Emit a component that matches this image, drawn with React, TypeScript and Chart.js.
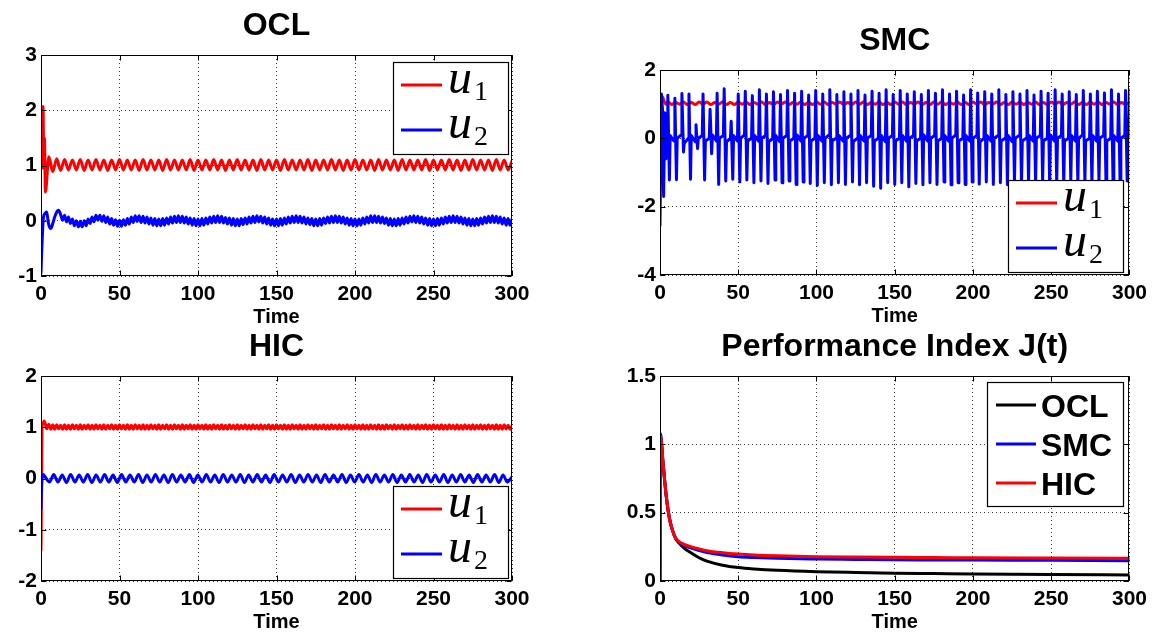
import React, { useEffect, useRef } from "react";
import { Chart, registerables } from "chart.js";

Chart.register(...registerables);

const PAGE_W = 1153;
const PAGE_H = 632;
const SANS = '"Liberation Sans", Arial, Helvetica, sans-serif';
const SERIF = '"Liberation Serif", "DejaVu Serif", serif';
const RED = "#ff0000";
const BLUE = "#0000ff";
const BLACK = "#000000";

const TITLES = ["OCL", "SMC", "HIC", "Performance Index J(t)"];
const X_LABEL = "Time";
const X_MIN = 0;
const X_MAX = 300;
const X_TICK_STEP = 50;
const U_LEGEND = [
  { base: "u", sub: "1" },
  { base: "u", sub: "2" },
];
const J_LEGEND = ["OCL", "SMC", "HIC"];

// ---------- shared time grids (sampling instants of the oscillating signals) ----------
const T_2_5 = [
  5, 7.5, 10, 12.5, 15, 17.5, 20, 22.5, 25, 27.5, 30, 32.5, 35, 37.5, 40, 42.5, 45, 47.5, 50, 52.5,
  55, 57.5, 60, 62.5, 65, 67.5, 70, 72.5, 75, 77.5, 80, 82.5, 85, 87.5, 90, 92.5, 95, 97.5, 100, 102.5,
  105, 107.5, 110, 112.5, 115, 117.5, 120, 122.5, 125, 127.5, 130, 132.5, 135, 137.5, 140, 142.5, 145, 147.5, 150, 152.5,
  155, 157.5, 160, 162.5, 165, 167.5, 170, 172.5, 175, 177.5, 180, 182.5, 185, 187.5, 190, 192.5, 195, 197.5, 200, 202.5,
  205, 207.5, 210, 212.5, 215, 217.5, 220, 222.5, 225, 227.5, 230, 232.5, 235, 237.5, 240, 242.5, 245, 247.5, 250, 252.5,
  255, 257.5, 260, 262.5, 265, 267.5, 270, 272.5, 275, 277.5, 280, 282.5, 285, 287.5, 290, 292.5, 295, 297.5, 300,
];

const T_1_25 = [
  5, 6.25, 7.5, 8.75, 10, 11.25, 12.5, 13.75, 15, 16.25, 17.5, 18.75, 20, 21.25, 22.5, 23.75, 25, 26.25, 27.5, 28.75,
  30, 31.25, 32.5, 33.75, 35, 36.25, 37.5, 38.75, 40, 41.25, 42.5, 43.75, 45, 46.25, 47.5, 48.75, 50, 51.25, 52.5, 53.75,
  55, 56.25, 57.5, 58.75, 60, 61.25, 62.5, 63.75, 65, 66.25, 67.5, 68.75, 70, 71.25, 72.5, 73.75, 75, 76.25, 77.5, 78.75,
  80, 81.25, 82.5, 83.75, 85, 86.25, 87.5, 88.75, 90, 91.25, 92.5, 93.75, 95, 96.25, 97.5, 98.75, 100, 101.25, 102.5, 103.75,
  105, 106.25, 107.5, 108.75, 110, 111.25, 112.5, 113.75, 115, 116.25, 117.5, 118.75, 120, 121.25, 122.5, 123.75, 125, 126.25, 127.5, 128.75,
  130, 131.25, 132.5, 133.75, 135, 136.25, 137.5, 138.75, 140, 141.25, 142.5, 143.75, 145, 146.25, 147.5, 148.75, 150, 151.25, 152.5, 153.75,
  155, 156.25, 157.5, 158.75, 160, 161.25, 162.5, 163.75, 165, 166.25, 167.5, 168.75, 170, 171.25, 172.5, 173.75, 175, 176.25, 177.5, 178.75,
  180, 181.25, 182.5, 183.75, 185, 186.25, 187.5, 188.75, 190, 191.25, 192.5, 193.75, 195, 196.25, 197.5, 198.75, 200, 201.25, 202.5, 203.75,
  205, 206.25, 207.5, 208.75, 210, 211.25, 212.5, 213.75, 215, 216.25, 217.5, 218.75, 220, 221.25, 222.5, 223.75, 225, 226.25, 227.5, 228.75,
  230, 231.25, 232.5, 233.75, 235, 236.25, 237.5, 238.75, 240, 241.25, 242.5, 243.75, 245, 246.25, 247.5, 248.75, 250, 251.25, 252.5, 253.75,
  255, 256.25, 257.5, 258.75, 260, 261.25, 262.5, 263.75, 265, 266.25, 267.5, 268.75, 270, 271.25, 272.5, 273.75, 275, 276.25, 277.5, 278.75,
  280, 281.25, 282.5, 283.75, 285, 286.25, 287.5, 288.75, 290, 291.25, 292.5, 293.75, 295, 296.25, 297.5, 298.75, 300,
];

const T_2_7 = [
  2.7, 5.4, 8.1, 10.8, 13.5, 16.2, 18.9, 21.6, 24.3, 27,
  29.7, 32.4, 35.1, 37.8, 40.5, 43.2, 45.9, 48.6, 51.3, 54,
  56.7, 59.4, 62.1, 64.8, 67.5, 70.2, 72.9, 75.6, 78.3, 81,
  83.7, 86.4, 89.1, 91.8, 94.5, 97.2, 99.9, 102.6, 105.3, 108,
  110.7, 113.4, 116.1, 118.8, 121.5, 124.2, 126.9, 129.6, 132.3, 135,
  137.7, 140.4, 143.1, 145.8, 148.5, 151.2, 153.9, 156.6, 159.3, 162,
  164.7, 167.4, 170.1, 172.8, 175.5, 178.2, 180.9, 183.6, 186.3, 189,
  191.7, 194.4, 197.1, 199.8, 202.5, 205.2, 207.9, 210.6, 213.3, 216,
  218.7, 221.4, 224.1, 226.8, 229.5, 232.2, 234.9, 237.6, 240.3, 243,
  245.7, 248.4, 251.1, 253.8, 256.5, 259.2, 261.9, 264.6, 267.3, 270,
  272.7, 275.4, 278.1, 280.8, 283.5, 286.2, 288.9, 291.6, 294.3, 297,
  299.7,
];

// ---------- OCL ----------
const OCL_U1_T0 = [0, 0.5, 1.3, 1.8, 2.2, 2.8];
const OCL_U1_Y0 = [1.42, 0.95, 2.07, 0.95, 1.5, 0.52];
const OCL_U1 = [
  1.16, 0.89, 1.12, 0.91, 1.11, 0.92, 1.1, 0.92, 1.11, 0.91,
  1.1, 0.92, 1.11, 0.92, 1.1, 0.91, 1.1, 0.92, 1.11, 0.92,
  1.1, 0.92, 1.1, 0.91, 1.11, 0.92, 1.1, 0.92, 1.1, 0.91,
  1.11, 0.92, 1.1, 0.92, 1.1, 0.92, 1.11, 0.91, 1.1, 0.92,
  1.1, 0.92, 1.11, 0.92, 1.1, 0.91, 1.1, 0.92, 1.11, 0.92,
  1.1, 0.92, 1.1, 0.91, 1.11, 0.92, 1.1, 0.92, 1.1, 0.91,
  1.11, 0.92, 1.1, 0.92, 1.1, 0.92, 1.11, 0.91, 1.1, 0.92,
  1.1, 0.92, 1.11, 0.92, 1.1, 0.91, 1.1, 0.92, 1.11, 0.92,
  1.1, 0.92, 1.1, 0.91, 1.11, 0.92, 1.1, 0.92, 1.1, 0.91,
  1.11, 0.92, 1.1, 0.92, 1.1, 0.92, 1.11, 0.91, 1.1, 0.92,
  1.1, 0.92, 1.11, 0.92, 1.1, 0.91, 1.1, 0.92, 1.11, 0.92,
  1.1, 0.92, 1.1, 0.91, 1.11, 0.92, 1.1, 0.92, 1.08,
];
const OCL_U2_T0 = [0, 0.4, 0.9, 1.5, 2.5, 3.6, 4.4];
const OCL_U2_Y0 = [-0.95, -0.6, -0.25, 0.05, 0.13, 0.16, 0.02];
const OCL_U2 = [
  -0.08, -0.14, -0.05, 0.07, 0.16, 0.19,
  0.11, 0.01, 0.1, -0.02, 0.07, -0.05, 0.03, -0.09, 0.0, -0.11, -0.01, -0.11, 0.0, -0.09, 0.03, -0.05, 0.07, -0.02, 0.1, 0.01,
  0.1, -0.01, 0.09, -0.03, 0.07, -0.06, 0.04, -0.08, 0.02, -0.1, 0.01, -0.1, 0.02, -0.08, 0.04, -0.06, 0.07, -0.03, 0.09, -0.01,
  0.09, -0.03, 0.08, -0.04, 0.07, -0.06, 0.05, -0.08, 0.04, -0.09, 0.03, -0.09, 0.04, -0.08, 0.05, -0.06, 0.07, -0.04, 0.08, -0.03,
  0.09, -0.03, 0.08, -0.04, 0.07, -0.06, 0.05, -0.08, 0.04, -0.09, 0.03, -0.09, 0.04, -0.08, 0.05, -0.06, 0.07, -0.04, 0.08, -0.03,
  0.09, -0.03, 0.08, -0.04, 0.06, -0.06, 0.05, -0.08, 0.04, -0.09, 0.03, -0.09, 0.04, -0.07, 0.05, -0.06, 0.07, -0.04, 0.08, -0.03,
  0.09, -0.02, 0.08, -0.04, 0.07, -0.06, 0.05, -0.08, 0.03, -0.09, 0.03, -0.09, 0.04, -0.08, 0.05, -0.06, 0.07, -0.04, 0.08, -0.03,
  0.09, -0.03, 0.08, -0.04, 0.07, -0.06, 0.05, -0.07, 0.04, -0.09, 0.03, -0.09, 0.04, -0.08, 0.05, -0.05, 0.07, -0.04, 0.08, -0.03,
  0.09, -0.03, 0.08, -0.04, 0.07, -0.06, 0.05, -0.08, 0.04, -0.09, 0.03, -0.09, 0.03, -0.08, 0.05, -0.06, 0.07, -0.04, 0.09, -0.03,
  0.09, -0.03, 0.08, -0.04, 0.07, -0.05, 0.05, -0.08, 0.04, -0.09, 0.03, -0.09, 0.04, -0.08, 0.05, -0.06, 0.07, -0.04, 0.08, -0.02,
  0.09, -0.03, 0.08, -0.04, 0.07, -0.06, 0.05, -0.08, 0.04, -0.09, 0.03, -0.09, 0.04, -0.08, 0.05, -0.06, 0.07, -0.04, 0.08, -0.03,
  0.09, -0.03, 0.08, -0.04, 0.07, -0.06, 0.05, -0.08, 0.04, -0.09, 0.03, -0.09, 0.04, -0.08, 0.05, -0.06, 0.07, -0.04, 0.08, -0.03,
  0.09, -0.03, 0.08, -0.04, 0.07, -0.06, 0.05, -0.08, 0.04, -0.08, 0.03,
];

// ---------- SMC ----------
const SMC_U1_T0 = [0, 0.3, 0.9, 1.8, 2.8, 3.8];
const SMC_U1_Y0 = [0, 0.9, 1.25, 1.2, 1.07, 1.0];
const SMC_U1 = [
  1.07, 0.99, 1.05, 1.0, 1.06, 0.99, 1.05, 0.99, 1.06, 1.0,
  1.06, 0.99, 1.05, 1.0, 1.06, 0.99, 1.05, 0.99, 1.06, 1.0,
  1.06, 0.99, 1.05, 1.0, 1.06, 0.99, 1.05, 0.99, 1.06, 1.0,
  1.06, 0.99, 1.05, 1.0, 1.06, 0.99, 1.05, 0.99, 1.06, 1.0,
  1.06, 0.99, 1.05, 1.0, 1.06, 0.99, 1.05, 0.99, 1.06, 1.0,
  1.06, 0.99, 1.05, 1.0, 1.06, 0.99, 1.05, 0.99, 1.06, 1.0,
  1.06, 0.99, 1.05, 1.0, 1.06, 0.99, 1.05, 0.99, 1.06, 1.0,
  1.06, 0.99, 1.05, 1.0, 1.06, 0.99, 1.05, 0.99, 1.06, 1.0,
  1.06, 0.99, 1.05, 1.0, 1.06, 0.99, 1.05, 0.99, 1.06, 1.0,
  1.06, 0.99, 1.05, 1.0, 1.06, 0.99, 1.05, 0.99, 1.06, 1.0,
  1.06, 0.99, 1.05, 1.0, 1.06, 0.99, 1.05, 0.99, 1.06, 1.0,
  1.06, 0.99, 1.05, 1.0, 1.06, 0.99, 1.05, 0.99, 1.05,
];
const SMC_U2_T = [
  0, 0.9, 1.6, 2.3, 3.1, 3.8,
  4.5, 5, 6, 6.5, 9, 9.5, 10.5, 11, 13.5, 14, 15, 15.5, 18, 18.5, 19.5, 20,
  22.5, 23, 24, 24.5, 27, 27.5, 28.5, 29, 31.5, 32, 33, 33.5, 36, 36.5, 37.5, 38,
  40.5, 41, 42, 42.5, 45, 45.5, 46.5, 47, 49.5, 50, 51, 51.5, 54, 54.5, 55.5, 56,
  58.5, 59, 60, 60.5, 63, 63.5, 64.5, 65, 67.5, 68, 69, 69.5, 72, 72.5, 73.5, 74,
  76.5, 77, 78, 78.5, 81, 81.5, 82.5, 83, 85.5, 86, 87, 87.5, 90, 90.5, 91.5, 92,
  94.5, 95, 96, 96.5, 99, 99.5, 100.5, 101, 103.5, 104, 105, 105.5, 108, 108.5, 109.5, 110,
  112.5, 113, 114, 114.5, 117, 117.5, 118.5, 119, 121.5, 122, 123, 123.5, 126, 126.5, 127.5, 128,
  130.5, 131, 132, 132.5, 135, 135.5, 136.5, 137, 139.5, 140, 141, 141.5, 144, 144.5, 145.5, 146,
  148.5, 149, 150, 150.5, 153, 153.5, 154.5, 155, 157.5, 158, 159, 159.5, 162, 162.5, 163.5, 164,
  166.5, 167, 168, 168.5, 171, 171.5, 172.5, 173, 175.5, 176, 177, 177.5, 180, 180.5, 181.5, 182,
  184.5, 185, 186, 186.5, 189, 189.5, 190.5, 191, 193.5, 194, 195, 195.5, 198, 198.5, 199.5, 200,
  202.5, 203, 204, 204.5, 207, 207.5, 208.5, 209, 211.5, 212, 213, 213.5, 216, 216.5, 217.5, 218,
  220.5, 221, 222, 222.5, 225, 225.5, 226.5, 227, 229.5, 230, 231, 231.5, 234, 234.5, 235.5, 236,
  238.5, 239, 240, 240.5, 243, 243.5, 244.5, 245, 247.5, 248, 249, 249.5, 252, 252.5, 253.5, 254,
  256.5, 257, 258, 258.5, 261, 261.5, 262.5, 263, 265.5, 266, 267, 267.5, 270, 270.5, 271.5, 272,
  274.5, 275, 276, 276.5, 279, 279.5, 280.5, 281, 283.5, 284, 285, 285.5, 288, 288.5, 289.5, 290,
  292.5, 293, 294, 294.5, 297, 297.5, 298.5, 299,
  299.6, 300,
];
const SMC_U2_Y = [
  -2.55, 1.3, 0.85, -1.7, 0.75, -0.6,
  0.15, 1.26, -1.22, 0.08, -0.08, 1.17, -1.21, 0, 0.1, 1.31, -0.4, -0.15, 0, 1.3, -1.2, 0.08,
  -0.1, 0.4, -0.3, 0, 0.08, 1.3, -1.22, -0.08, 0, 0.85, -0.45, 0.1, -0.08, 1.32, -1.35, 0,
  0.08, 1.45, -1.25, -0.1, 0, 0.5, -1.2, 0.08, -0.08, 1.3, -1.28, 0, 0.1, 1.38, -1.22, -0.08,
  0, 1.25, -1.3, 0.08, -0.08, 1.42, -1.25, 0, 0.08, 1.3, -1.32, -0.1, 0, 1.36, -1.22, 0.08,
  -0.1, 1.28, -1.3, 0, 0.08, 1.4, -1.25, -0.08, 0, 1.32, -1.35, 0.1, -0.08, 1.38, -1.28, 0,
  0.08, 1.27, -1.32, -0.08, 0, 1.4, -1.38, 0.08, -0.08, 1.3, -1.3, 0, 0.1, 1.42, -1.36, -0.08,
  0, 1.28, -1.3, 0.08, -0.08, 1.36, -1.35, 0, 0.08, 1.3, -1.28, -0.1, 0, 1.4, -1.36, 0.08,
  -0.08, 1.27, -1.3, 0, 0.08, 1.38, -1.4, -0.08, 0, 1.32, -1.46, 0.08, -0.1, 1.42, -1.3, 0,
  0.08, 1.28, -1.35, -0.08, 0, 1.4, -1.3, 0.08, -0.08, 1.3, -1.42, 0, 0.08, 1.36, -1.32, -0.08,
  0, 1.28, -1.36, 0.1, -0.08, 1.4, -1.3, 0, 0.08, 1.32, -1.35, -0.08, 0, 1.42, -1.28, 0.08,
  -0.08, 1.3, -1.36, 0, 0.1, 1.38, -1.3, -0.08, 0, 1.27, -1.35, 0.08, -0.08, 1.42, -1.28, 0,
  0.08, 1.33, -1.34, -0.1, 0, 1.36, -1.28, 0.08, -0.08, 1.3, -1.35, 0, 0.08, 1.42, -1.3, -0.08,
  0, 1.28, -1.36, 0.08, -0.1, 1.36, -1.28, 0, 0.08, 1.3, -1.34, -0.08, 0, 1.4, -1.3, 0.08,
  -0.08, 1.27, -1.36, 0, 0.08, 1.38, -1.28, -0.08, 0, 1.32, -1.34, 0.1, -0.08, 1.42, -1.3, 0,
  0.08, 1.3, -1.36, -0.08, 0, 1.36, -1.28, 0.08, -0.08, 1.28, -1.34, 0, 0.1, 1.4, -1.3, -0.08,
  0, 1.3, -1.36, 0.08, -0.08, 1.38, -1.28, 0, 0.08, 1.33, -1.34, -0.08, 0, 1.42, -1.3, 0.08,
  -0.08, 1.3, -1.36, 0, 0.08, 1.4, -1.25, 0,
  0.08, 1.42,
];

// ---------- HIC ----------
const HIC_U1_T0 = [0, 0.3, 0.6, 1.2, 2, 2.8, 3.6];
const HIC_U1_Y0 = [-1.4, -0.3, 0.98, 1.07, 1.12, 1.06, 0.97];
const HIC_U1 = [
  1.06, 0.96, 1.05, 0.96, 1.05, 0.97, 1.04, 0.96, 1.05, 0.96, 1.04, 0.96, 1.05, 0.97, 1.04, 0.96, 1.05, 0.96, 1.04, 0.97,
  1.05, 0.96, 1.04, 0.96, 1.05, 0.97, 1.04, 0.96, 1.05, 0.96, 1.04, 0.97, 1.05, 0.96, 1.04, 0.96, 1.05, 0.97, 1.04, 0.96,
  1.05, 0.96, 1.04, 0.96, 1.05, 0.97, 1.04, 0.96, 1.05, 0.96, 1.04, 0.96, 1.05, 0.97, 1.04, 0.96, 1.05, 0.96, 1.04, 0.97,
  1.05, 0.96, 1.04, 0.96, 1.05, 0.97, 1.04, 0.96, 1.05, 0.96, 1.04, 0.97, 1.05, 0.96, 1.04, 0.96, 1.05, 0.97, 1.04, 0.96,
  1.05, 0.96, 1.04, 0.96, 1.05, 0.97, 1.04, 0.96, 1.05, 0.96, 1.04, 0.96, 1.05, 0.97, 1.04, 0.96, 1.05, 0.96, 1.04, 0.97,
  1.05, 0.96, 1.04, 0.96, 1.05, 0.97, 1.04, 0.96, 1.05, 0.96, 1.04, 0.97, 1.05, 0.96, 1.04, 0.96, 1.05, 0.97, 1.04, 0.96,
  1.05, 0.96, 1.04, 0.96, 1.05, 0.97, 1.04, 0.96, 1.05, 0.96, 1.04, 0.96, 1.05, 0.97, 1.04, 0.96, 1.05, 0.96, 1.04, 0.97,
  1.05, 0.96, 1.04, 0.96, 1.05, 0.97, 1.04, 0.96, 1.05, 0.96, 1.04, 0.97, 1.05, 0.96, 1.04, 0.96, 1.05, 0.97, 1.04, 0.96,
  1.05, 0.96, 1.04, 0.96, 1.05, 0.97, 1.04, 0.96, 1.05, 0.96, 1.04, 0.96, 1.05, 0.97, 1.04, 0.96, 1.05, 0.96, 1.04, 0.97,
  1.05, 0.96, 1.04, 0.96, 1.05, 0.97, 1.04, 0.96, 1.05, 0.96, 1.04, 0.97, 1.05, 0.96, 1.04, 0.96, 1.05, 0.97, 1.04, 0.96,
  1.05, 0.96, 1.04, 0.96, 1.05, 0.97, 1.04, 0.96, 1.05, 0.96, 1.04, 0.96, 1.05, 0.97, 1.04, 0.96, 1.05, 0.96, 1.04, 0.97,
  1.05, 0.96, 1.04, 0.96, 1.05, 0.97, 1.04, 0.96, 1.05, 0.96, 1.04, 0.96, 1.05, 0.97, 1.04, 0.96, 1.03,
];
const HIC_U2_T0 = [0, 0.5, 1.4];
const HIC_U2_Y0 = [-0.6, -0.1, 0.08];
const HIC_U2 = [
  0.03, -0.07, 0.08, -0.07, 0.07, -0.08, 0.08, -0.07, 0.07, -0.07,
  0.08, -0.08, 0.07, -0.07, 0.08, -0.07, 0.07, -0.08, 0.08, -0.07,
  0.07, -0.07, 0.08, -0.08, 0.07, -0.07, 0.08, -0.07, 0.07, -0.08,
  0.08, -0.07, 0.07, -0.07, 0.08, -0.08, 0.07, -0.07, 0.08, -0.07,
  0.07, -0.08, 0.08, -0.07, 0.07, -0.07, 0.08, -0.08, 0.07, -0.07,
  0.08, -0.07, 0.07, -0.08, 0.08, -0.07, 0.07, -0.07, 0.08, -0.08,
  0.07, -0.07, 0.08, -0.07, 0.07, -0.08, 0.08, -0.07, 0.07, -0.07,
  0.08, -0.08, 0.07, -0.07, 0.08, -0.07, 0.07, -0.08, 0.08, -0.07,
  0.07, -0.07, 0.08, -0.08, 0.07, -0.07, 0.08, -0.07, 0.07, -0.08,
  0.08, -0.07, 0.07, -0.07, 0.08, -0.08, 0.07, -0.07, 0.08, -0.07,
  0.07, -0.08, 0.08, -0.07, 0.07, -0.07, 0.08, -0.08, 0.07, -0.07,
  0.02,
];

// ---------- Performance index J(t) ----------
const J_T = [0, 0.3, 2, 4, 6, 8, 10, 12, 15, 20, 25, 30, 40, 50, 60, 75, 100, 125, 150, 175, 200, 250, 300];
const J_OCL = [0, 1.05, 0.85, 0.62, 0.46, 0.37, 0.31, 0.28, 0.245, 0.205, 0.17, 0.145, 0.115, 0.098, 0.088, 0.078, 0.068, 0.062, 0.057, 0.054, 0.051, 0.047, 0.044];
const J_SMC = [0, 1.08, 0.86, 0.62, 0.46, 0.37, 0.31, 0.285, 0.262, 0.24, 0.222, 0.208, 0.19, 0.178, 0.172, 0.166, 0.161, 0.158, 0.155, 0.154, 0.153, 0.151, 0.149];
const J_HIC = [0, 1.06, 0.86, 0.62, 0.46, 0.37, 0.315, 0.29, 0.27, 0.25, 0.235, 0.222, 0.207, 0.197, 0.19, 0.184, 0.178, 0.175, 0.173, 0.172, 0.17, 0.168, 0.166];

// ---------- helpers ----------
type Pt = { x: number; y: number };
function pairs(ts: number[], ys: number[]): Pt[] {
  const n = Math.min(ts.length, ys.length);
  const out: Pt[] = [];
  for (let i = 0; i < n; i++) out.push({ x: ts[i], y: ys[i] });
  return out;
}

const AXIS_W = 40;
const AXIS_H = 40;
const TICK_LEN = 5;

function line(data: Pt[], color: string, order: number, smooth: boolean) {
  return {
    data,
    borderColor: color,
    backgroundColor: color,
    borderWidth: 3,
    pointRadius: 0,
    fill: false,
    order,
    borderJoinStyle: "round",
    borderCapStyle: "round",
    cubicInterpolationMode: smooth ? "monotone" : "default",
    tension: 0,
  };
}

const U_ITEMS = [
  { ...U_LEGEND[0], color: RED },
  { ...U_LEGEND[1], color: BLUE },
];

const PANELS = [
  {
    title: TITLES[0],
    area: { l: 41, t: 55, r: 512, b: 276 },
    y: { min: -1, max: 3, step: 1 },
    datasets: [
      line([...pairs(OCL_U2_T0, OCL_U2_Y0), ...pairs(T_1_25, OCL_U2)], BLUE, 0, true),
      line([...pairs(OCL_U1_T0, OCL_U1_Y0), ...pairs(T_2_5, OCL_U1)], RED, 1, true),
    ],
    legend: { corner: "ne", dx: 4, dy: 7, w: 115, h: 92, row0: 23, gap: 45, lx0: 8, lx1: 49, tx: 55, math: true, items: U_ITEMS },
  },
  {
    title: TITLES[1],
    area: { l: 660, t: 70, r: 1131, b: 275 },
    y: { min: -4, max: 2, step: 2 },
    datasets: [
      line(pairs(SMC_U2_T, SMC_U2_Y), BLUE, 0, false),
      line([...pairs(SMC_U1_T0, SMC_U1_Y0), ...pairs(T_2_5, SMC_U1)], RED, 1, true),
    ],
    legend: { corner: "se", dx: 6, dy: 3, w: 115, h: 92, row0: 23, gap: 45, lx0: 8, lx1: 49, tx: 55, math: true, items: U_ITEMS },
  },
  {
    title: TITLES[2],
    area: { l: 41, t: 376, r: 512, b: 581 },
    y: { min: -2, max: 2, step: 1 },
    datasets: [
      line([...pairs(HIC_U2_T0, HIC_U2_Y0), ...pairs(T_2_7, HIC_U2)], BLUE, 0, true),
      line([...pairs(HIC_U1_T0, HIC_U1_Y0), ...pairs(T_1_25, HIC_U1)], RED, 1, true),
    ],
    legend: { corner: "se", dx: 4, dy: 3, w: 115, h: 92, row0: 23, gap: 45, lx0: 8, lx1: 49, tx: 55, math: true, items: U_ITEMS },
  },
  {
    title: TITLES[3],
    area: { l: 660, t: 376, r: 1131, b: 581 },
    y: { min: 0, max: 1.5, step: 0.5 },
    datasets: [
      line(pairs(J_T, J_HIC), RED, 0, true),
      line(pairs(J_T, J_SMC), BLUE, 1, true),
      line(pairs(J_T, J_OCL), BLACK, 2, true),
    ],
    legend: {
      corner: "ne", dx: 6, dy: 6, w: 136, h: 124, row0: 23, gap: 39, lx0: 9, lx1: 49, tx: 54, math: false,
      items: [
        { text: J_LEGEND[0], color: BLACK },
        { text: J_LEGEND[1], color: BLUE },
        { text: J_LEGEND[2], color: RED },
      ],
    },
  },
];

function framePlugin(p: any) {
  return {
    id: "matlabFrame",
    afterDatasetsDraw(chart: any) {
      const ctx = chart.ctx as CanvasRenderingContext2D;
      const a = chart.chartArea;
      const xs = chart.scales.x;
      const ys = chart.scales.y;
      ctx.save();
      ctx.setLineDash([]);
      ctx.strokeStyle = "#000";
      ctx.lineWidth = 1;
      const L = Math.round(a.left) + 0.5;
      const T = Math.round(a.top) + 0.5;
      const R = Math.round(a.right) - 0.5;
      const B = Math.round(a.bottom) - 0.5;
      ctx.strokeRect(L, T, R - L, B - T);
      ctx.beginPath();
      for (const tk of xs.ticks) {
        const px = Math.round(xs.getPixelForValue(tk.value)) + 0.5;
        ctx.moveTo(px, B);
        ctx.lineTo(px, B - TICK_LEN);
        ctx.moveTo(px, T);
        ctx.lineTo(px, T + TICK_LEN);
      }
      for (const tk of ys.ticks) {
        const py = Math.round(ys.getPixelForValue(tk.value)) + 0.5;
        ctx.moveTo(L, py);
        ctx.lineTo(L + TICK_LEN, py);
        ctx.moveTo(R, py);
        ctx.lineTo(R - TICK_LEN, py);
      }
      ctx.stroke();

      // legend
      const lg = p.legend;
      const bx = Math.round(a.right) - lg.dx - lg.w;
      const by = lg.corner === "ne" ? Math.round(a.top) + lg.dy : Math.round(a.bottom) - lg.dy - lg.h;
      ctx.fillStyle = "#fff";
      ctx.fillRect(bx, by, lg.w, lg.h);
      ctx.strokeStyle = "#000";
      ctx.lineWidth = 1.2;
      ctx.strokeRect(bx + 0.5, by + 0.5, lg.w, lg.h);
      lg.items.forEach((it: any, i: number) => {
        const ry = by + lg.row0 + i * lg.gap;
        ctx.strokeStyle = it.color;
        ctx.lineWidth = 3;
        ctx.beginPath();
        ctx.moveTo(bx + lg.lx0, ry);
        ctx.lineTo(bx + lg.lx1, ry);
        ctx.stroke();
        ctx.fillStyle = "#000";
        ctx.textAlign = "left";
        ctx.textBaseline = "alphabetic";
        if (lg.math) {
          ctx.font = `italic 48px ${SERIF}`;
          const ux = bx + lg.tx;
          ctx.fillText(it.base, ux, ry + 8);
          const w = ctx.measureText(it.base).width;
          ctx.font = `28px ${SERIF}`;
          ctx.fillText(it.sub, ux + w + 2, ry + 15);
        } else {
          ctx.font = `bold 32px ${SANS}`;
          ctx.fillText(it.text, bx + lg.tx, ry + 11.5);
        }
      });
      ctx.restore();
    },
    afterDraw(chart: any) {
      const ctx = chart.ctx as CanvasRenderingContext2D;
      const a = chart.chartArea;
      const cx = (a.left + a.right) / 2;
      ctx.save();
      ctx.fillStyle = "#000";
      ctx.textAlign = "center";
      ctx.textBaseline = "alphabetic";
      ctx.font = `bold 32px ${SANS}`;
      ctx.fillText(p.title, cx, a.top - 20);
      ctx.font = `bold 20px ${SANS}`;
      ctx.fillText(X_LABEL, cx, a.bottom + 46.5);
      ctx.restore();
    },
  };
}

function buildConfig(p: any): any {
  const tickFont = { family: SANS, size: 21, weight: "bold" };
  const grid = { color: "rgba(0,0,0,0.8)", lineWidth: 1, drawTicks: false };
  const border = { display: false, dash: [1, 3] };
  const plainLabel = (v: any) => String(v);
  return {
    type: "line",
    data: { datasets: p.datasets },
    options: {
      animation: false,
      responsive: false,
      maintainAspectRatio: false,
      events: [],
      layout: {
        padding: {
          left: p.area.l - AXIS_W,
          top: p.area.t,
          right: PAGE_W - p.area.r,
          bottom: PAGE_H - p.area.b - AXIS_H,
        },
      },
      plugins: {
        legend: { display: false },
        title: { display: false },
        tooltip: { enabled: false },
      },
      scales: {
        x: {
          type: "linear",
          min: X_MIN,
          max: X_MAX,
          afterFit: (s: any) => {
            s.height = AXIS_H;
          },
          ticks: { stepSize: X_TICK_STEP, autoSkip: false, maxRotation: 0, color: "#000", padding: 6, font: tickFont, callback: plainLabel },
          grid,
          border,
        },
        y: {
          type: "linear",
          min: p.y.min,
          max: p.y.max,
          afterFit: (s: any) => {
            s.width = AXIS_W;
          },
          ticks: { stepSize: p.y.step, autoSkip: false, color: "#000", padding: 4, font: tickFont, callback: plainLabel },
          grid,
          border,
        },
      },
    },
    plugins: [framePlugin(p)],
  };
}

function Panel({ panel }: { panel: any }) {
  const ref = useRef<HTMLCanvasElement | null>(null);
  useEffect(() => {
    if (!ref.current) return;
    const chart = new Chart(ref.current, buildConfig(panel));
    return () => chart.destroy();
  }, [panel]);
  return (
    <canvas
      ref={ref}
      width={PAGE_W}
      height={PAGE_H}
      style={{ position: "absolute", left: 0, top: 0, width: PAGE_W, height: PAGE_H }}
    />
  );
}

export default function App() {
  return (
    <div
      style={{
        position: "fixed",
        left: 0,
        top: 0,
        width: PAGE_W,
        height: PAGE_H,
        background: "#fff",
        overflow: "hidden",
      }}
    >
      {PANELS.map((p, i) => (
        <Panel key={i} panel={p} />
      ))}
    </div>
  );
}
